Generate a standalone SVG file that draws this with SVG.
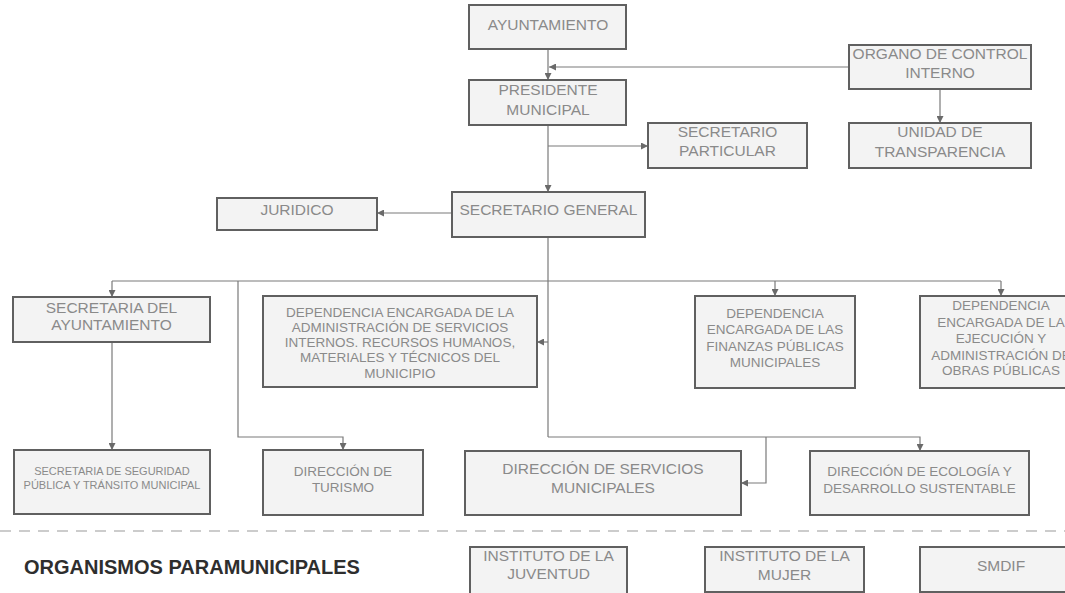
<svg xmlns="http://www.w3.org/2000/svg" width="1065" height="593" viewBox="0 0 1065 593">
<style>
.box{fill:#f3f3f3;stroke:#606060;stroke-width:2}
.t{font-family:"Liberation Sans",Arial,sans-serif;fill:#8a8a8a;text-anchor:middle}
.f15{font-size:15.5px}
.f13{font-size:13.5px}
.f11{font-size:11px}
.ln{fill:none;stroke:#7a7a7a;stroke-width:1.2}
.title{font-family:"Liberation Sans",Arial,sans-serif;font-weight:bold;font-size:20px;fill:#2e2e2e}
</style>
<defs>
<marker id="arr" viewBox="0 0 8 8" refX="8" refY="4" markerWidth="7" markerHeight="7" markerUnits="userSpaceOnUse" orient="auto">
<path d="M0,0 L8,4 L0,8 z" fill="#6a6a6a"/>
</marker>
</defs>
<rect width="1065" height="593" fill="#ffffff"/>

<g id="connectors">
<line class="ln" x1="548" y1="49" x2="548" y2="80" marker-end="url(#arr)"/>
<line class="ln" x1="849" y1="67" x2="549" y2="67" marker-end="url(#arr)"/>
<line class="ln" x1="940" y1="89" x2="940" y2="123" marker-end="url(#arr)"/>
<line class="ln" x1="548" y1="125" x2="548" y2="192" marker-end="url(#arr)"/>
<line class="ln" x1="548" y1="146" x2="648" y2="146" marker-end="url(#arr)"/>
<line class="ln" x1="452" y1="213" x2="377" y2="213" marker-end="url(#arr)"/>
<line class="ln" x1="548" y1="237" x2="548" y2="437"/>
<line class="ln" x1="112" y1="281" x2="1001" y2="281"/>
<line class="ln" x1="112" y1="281" x2="112" y2="297" marker-end="url(#arr)"/>
<line class="ln" x1="775" y1="281" x2="775" y2="296" marker-end="url(#arr)"/>
<line class="ln" x1="1001" y1="281" x2="1001" y2="296" marker-end="url(#arr)"/>
<polyline class="ln" points="238,281 238,437 343,437 343,450" marker-end="url(#arr)"/>
<line class="ln" x1="548" y1="342" x2="537" y2="342" marker-end="url(#arr)"/>
<line class="ln" x1="112" y1="342" x2="112" y2="450" marker-end="url(#arr)"/>
<polyline class="ln" points="548,437 920,437 920,451" marker-end="url(#arr)"/>
<polyline class="ln" points="766,437 766,483 741,483" marker-end="url(#arr)"/>
</g>

<g id="ayuntamiento"><rect class="box" x="469" y="5" width="157" height="44"/><text class="t f15" x="548" y="29.5">AYUNTAMIENTO</text></g>
<g id="presidente"><rect class="box" x="469" y="80" width="157" height="45"/><text class="t f15" x="548" y="94.5">PRESIDENTE</text><text class="t f15" x="548" y="114.5">MUNICIPAL</text></g>
<g id="organo"><rect class="box" x="849" y="45" width="182" height="44"/><text class="t f15" x="940" y="58.5">ORGANO DE CONTROL</text><text class="t f15" x="940" y="77.5">INTERNO</text></g>
<g id="sec-particular"><rect class="box" x="648" y="123" width="159" height="45"/><text class="t f15" x="727.5" y="137">SECRETARIO</text><text class="t f15" x="727.5" y="156">PARTICULAR</text></g>
<g id="transparencia"><rect class="box" x="849" y="123" width="182" height="45"/><text class="t f15" x="940" y="137">UNIDAD DE</text><text class="t f15" x="940" y="157">TRANSPARENCIA</text></g>
<g id="sec-general"><rect class="box" x="452" y="192" width="193" height="45"/><text class="t f15" x="548.5" y="214.5">SECRETARIO GENERAL</text></g>
<g id="juridico"><rect class="box" x="217" y="198" width="160" height="32"/><text class="t f15" x="297" y="214.5">JURIDICO</text></g>
<g id="sec-ayuntamiento"><rect class="box" x="13" y="297" width="197" height="45"/><text class="t f15" x="111.5" y="312.5">SECRETARIA DEL</text><text class="t f15" x="111.5" y="329.5">AYUNTAMIENTO</text></g>
<g id="dep-administracion"><rect class="box" x="263" y="296" width="274" height="91"/>
<text class="t f13" x="400" y="316.5">DEPENDENCIA ENCARGADA DE LA</text>
<text class="t f13" x="400" y="331.8">ADMINISTRACIÓN DE SERVICIOS</text>
<text class="t f13" x="400" y="347.1">INTERNOS. RECURSOS HUMANOS,</text>
<text class="t f13" x="400" y="362.4">MATERIALES Y TÉCNICOS DEL</text>
<text class="t f13" x="400" y="377.7">MUNICIPIO</text></g>
<g id="dep-finanzas"><rect class="box" x="695" y="296" width="160" height="92"/>
<text class="t f13" x="775" y="317.5">DEPENDENCIA</text>
<text class="t f13" x="775" y="334">ENCARGADA DE LAS</text>
<text class="t f13" x="775" y="350.5">FINANZAS PÚBLICAS</text>
<text class="t f13" x="775" y="367">MUNICIPALES</text></g>
<g id="dep-obras"><rect class="box" x="920" y="296" width="162" height="92"/>
<text class="t f13" x="1001" y="310">DEPENDENCIA</text>
<text class="t f13" x="1001" y="326.5">ENCARGADA DE LA</text>
<text class="t f13" x="1001" y="343">EJECUCIÓN Y</text>
<text class="t f13" x="1001" y="359.5">ADMINISTRACIÓN DE</text>
<text class="t f13" x="1001" y="375">OBRAS PÚBLICAS</text></g>
<g id="seguridad"><rect class="box" x="14" y="450" width="196" height="64"/><text class="t f11" x="112" y="475">SECRETARIA DE SEGURIDAD</text><text class="t f11" x="112" y="488.5">PÚBLICA Y TRÁNSITO MUNICIPAL</text></g>
<g id="turismo"><rect class="box" x="263" y="450" width="160" height="65"/><text class="t f13" x="343" y="476">DIRECCIÓN DE</text><text class="t f13" x="343" y="492">TURISMO</text></g>
<g id="servicios"><rect class="box" x="465" y="451" width="276" height="64"/><text class="t f15" x="603" y="473.5">DIRECCIÓN DE SERVICIOS</text><text class="t f15" x="603" y="492.5">MUNICIPALES</text></g>
<g id="ecologia"><rect class="box" x="810" y="451" width="219" height="64"/><text class="t f13" x="919.5" y="476">DIRECCIÓN DE ECOLOGÍA Y</text><text class="t f13" x="919.5" y="493">DESARROLLO SUSTENTABLE</text></g>

<line x1="0" y1="531" x2="1065" y2="531" stroke="#9a9a9a" stroke-width="1.2" stroke-dasharray="11 8"/>
<text class="title" x="24" y="574">ORGANISMOS PARAMUNICIPALES</text>

<g id="juventud"><rect class="box" x="470" y="547" width="157" height="47"/><text class="t f15" x="548.5" y="560.5">INSTITUTO DE LA</text><text class="t f15" x="548.5" y="579">JUVENTUD</text></g>
<g id="mujer"><rect class="box" x="705" y="547" width="159" height="45"/><text class="t f15" x="784.5" y="560.5">INSTITUTO DE LA</text><text class="t f15" x="784.5" y="579.5">MUJER</text></g>
<g id="smdif"><rect class="box" x="920" y="547" width="162" height="45"/><text class="t f15" x="1001" y="570.5">SMDIF</text></g>
</svg>
